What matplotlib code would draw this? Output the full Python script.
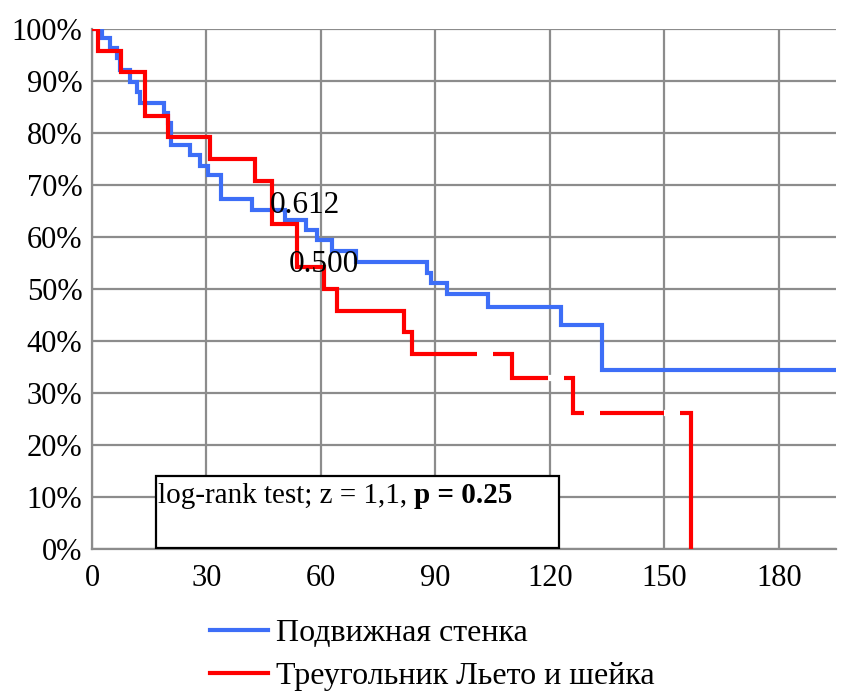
import matplotlib
matplotlib.use("Agg")
import matplotlib.pyplot as plt
from matplotlib.patches import Rectangle
import numpy as np

plt.rcParams['font.family'] = ['Liberation Serif', 'DejaVu Serif']

# survival curves (days, % surviving)
blue_t = [0, 2.6, 4.8, 6.5, 7.4, 9.9, 11.8, 12.7, 19.0, 19.9, 20.7, 25.8, 28.4,
          30.5, 33.9, 42.0, 50.7, 56.0, 59.0, 62.9, 69.1, 87.9, 88.8, 93.1,
          103.9, 122.9, 133.8, 195]
blue_s = [100, 98.2, 96.3, 94.4, 92.1, 89.9, 87.9, 85.8, 83.8, 81.9, 77.7, 75.8, 73.7,
          71.9, 67.3, 65.2, 63.3, 61.3, 59.4, 57.4, 55.2, 53.1, 51.1, 49.1,
          46.6, 43.0, 34.5, 34.5]
red_t = [0, 1.7, 7.6, 14.0, 19.9, 30.9, 42.7, 47.1, 53.8, 60.8, 64.3, 81.8, 83.9,
         110, 126, 157]
red_s = [100, 95.8, 91.7, 83.3, 79.2, 75.0, 70.8, 62.5, 54.2, 50.0, 45.8, 41.7, 37.5,
         32.8, 26.2, 0]
red_censor = [103, 121.5, 131, 152]

label_blue = 'Подвижная стенка'
label_red = 'Треугольник Льето и шейка'
x_ticks = [0, 30, 60, 90, 120, 150, 180]
y_ticks = [0, 10, 20, 30, 40, 50, 60, 70, 80, 90, 100]

fig = plt.figure(figsize=(8.42, 6.93), dpi=100)
ax = fig.add_axes([92/842, 1-549/693, (836-92)/842, (549-29)/693])

gridc = '#8c8c8c'
ax.set_xlim(0, 195)
ax.set_ylim(0, 100)
ax.set_xticks(x_ticks)
ax.set_yticks(y_ticks)
ax.set_yticklabels([f'{v}%' for v in y_ticks])
ax.tick_params(length=0, labelsize=22)
ax.tick_params(axis='x', pad=11)
ax.tick_params(axis='y', pad=7)
ax.grid(True, color=gridc, linewidth=1.6)
ax.set_axisbelow(True)
for s in ['top', 'right']:
    ax.spines[s].set_visible(False)
for s in ['left', 'bottom']:
    ax.spines[s].set_color(gridc)
    ax.spines[s].set_linewidth(1.6)

lb, = ax.step(blue_t, blue_s, where='post', color='#3d6ef7', lw=3, label=label_blue,
              solid_joinstyle='miter', zorder=3)
lr, = ax.step(red_t, red_s, where='post', color='#ff0000', lw=3, label=label_red,
              solid_joinstyle='miter', zorder=4)

# censored points on the red curve show as gaps
idx = np.searchsorted(red_t, red_censor, side='right') - 1
cs = [red_s[i] for i in idx]
ax.plot(red_censor, cs, linestyle='none', marker='_', ms=11, mew=4.5,
        color='white', zorder=5)

ax.text(46.5, 66.0, '0.612', fontsize=22.5, va='center', ha='left', zorder=6)
ax.text(51.5, 54.8, '0.500', fontsize=22.5, va='center', ha='left', zorder=6)

# log-rank box
ax.add_patch(Rectangle((16.8, 0.2), 105.5, 13.8, facecolor='white',
                       edgecolor='black', lw=1.6, zorder=6))
t1 = ax.text(17.3, 12.6, 'log-rank test; z = 1,1,', fontsize=21, va='top',
             ha='left', zorder=7)
ax.annotate('p = 0.25', xy=(1, 0), xycoords=t1, xytext=(5, 0),
            textcoords='offset points', fontsize=21, fontweight='bold',
            va='bottom', ha='left', zorder=7)

fig.legend(handles=[lb, lr], loc='upper left', bbox_to_anchor=(210/842, 1-619/693),
           frameon=False, fontsize=23, handlelength=1.8, handletextpad=0.28,
           labelspacing=0.42, borderpad=0, borderaxespad=0)

fig.savefig('out.png', dpi=100)
